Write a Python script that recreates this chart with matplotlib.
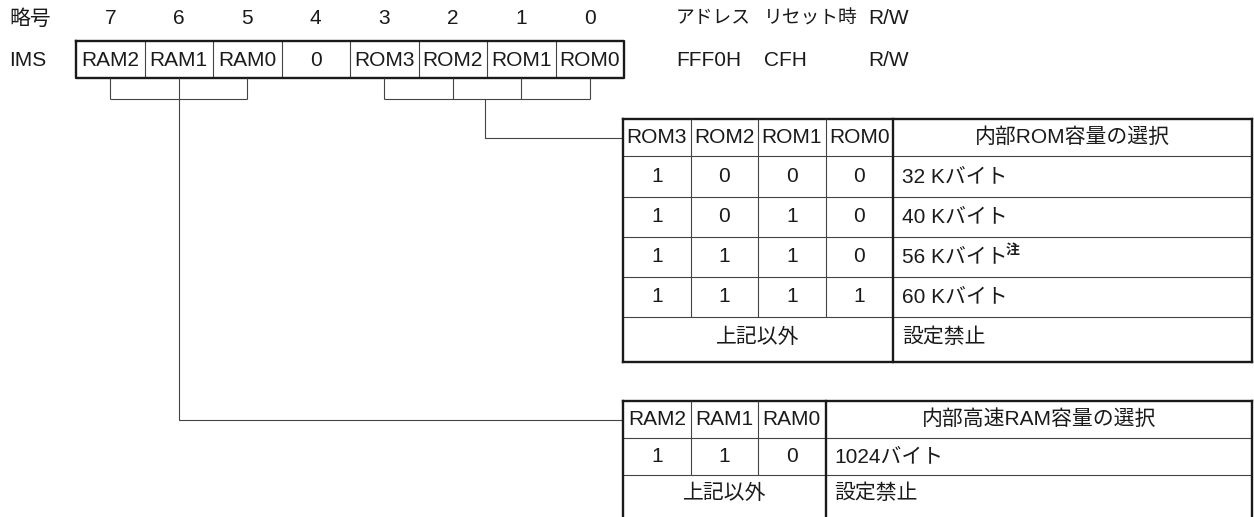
import matplotlib
matplotlib.use('Agg')
import matplotlib.pyplot as plt

plt.rcParams['font.family'] = ['Liberation Sans', 'Noto Sans CJK JP', 'DejaVu Sans']

# register
bit_numbers = ['7', '6', '5', '4', '3', '2', '1', '0']
bit_names = ['RAM2', 'RAM1', 'RAM0', '0', 'ROM3', 'ROM2', 'ROM1', 'ROM0']
reg_name = 'IMS'
info_headers = ['アドレス', 'リセット時', 'R/W']
info_values = ['FFF0H', 'CFH', 'R/W']

# ROM size table
rom_headers = ['ROM3', 'ROM2', 'ROM1', 'ROM0']
rom_title = '内部ROM容量の選択'
rom_bits = [[1, 0, 0, 0], [1, 0, 1, 0], [1, 1, 1, 0], [1, 1, 1, 1]]
rom_sizes = ['32 Kバイト', '40 Kバイト', '56 Kバイト', '60 Kバイト']
rom_note = [False, False, True, False]

# RAM size table
ram_headers = ['RAM2', 'RAM1', 'RAM0']
ram_title = '内部高速RAM容量の選択'
ram_bits = [[1, 1, 0]]
ram_sizes = ['1024バイト']
ram_note = [False]

other_label = '上記以外'
forbid_label = '設定禁止'
note_mark = '注'

FS = 15
TXT = '#1a1a1a'
THIN = dict(color='#444444', lw=0.8, solid_capstyle='butt')
THICK = dict(color='#1a1a1a', lw=1.7, solid_capstyle='projecting')

fig = plt.figure(figsize=(12.54, 5.17), dpi=100)
ax = fig.add_axes([0, 0, 1, 1])
ax.set_xlim(0, 1254)
ax.set_ylim(517, 0)
ax.axis('off')

# ---- register row
x0, cw = 76, 68.5
y_top, y_bot = 41, 78
ax.text(9, 19, '略号', fontsize=FS, color=TXT, va='center', ha='left')
ax.text(9, 60, reg_name, fontsize=FS, color=TXT, va='center', ha='left')
for i, (n, name) in enumerate(zip(bit_numbers, bit_names)):
    cx = x0 + cw * (i + 0.5)
    ax.text(cx, 19, n, fontsize=FS, color=TXT, ha='center', va='center')
    ax.text(cx, 60, name, fontsize=FS, color=TXT, ha='center', va='center')
    if i > 0:
        ax.plot([x0 + cw * i] * 2, [y_top, y_bot], **THIN)
x1 = x0 + cw * len(bit_names)
ax.plot([x0, x1, x1, x0, x0], [y_top, y_top, y_bot, y_bot, y_top], **THICK)

for xx, h, v in zip([676, 764, 868], info_headers, info_values):
    ax.text(xx, 19, h, fontsize=13.5 if h != 'R/W' else FS, color=TXT, va='center', ha='left')
    ax.text(xx, 60, v, fontsize=FS, color=TXT, va='center', ha='left')

# ---- brackets
br_y = 99
ram_idx = [bit_names.index(h) for h in ram_headers]
rom_idx = [bit_names.index(h) for h in rom_headers]


def bracket(idx, drop_x, drop_y, end_x):
    xs = [x0 + cw * (i + 0.5) for i in idx]
    for x in xs:
        ax.plot([x, x], [y_bot, br_y], **THIN)
    ax.plot([xs[0], xs[-1]], [br_y, br_y], **THIN)
    ax.plot([drop_x, drop_x, end_x], [br_y, drop_y, drop_y], **THIN)


def table(top, row_lines, bottom, headers, title, bits, sizes, notes):
    left, cwt, right = 623, 67.5, 1252
    split = left + cwt * len(headers)
    rows = [top] + row_lines + [bottom]
    ax.plot([left, right], [top, top], **THICK)
    ax.plot([left, right], [bottom, bottom], **THICK)
    for y in row_lines:
        ax.plot([left, right], [y, y], **THIN)
    ax.plot([left, left], [top, bottom], **THICK)
    ax.plot([right, right], [top, bottom], **THICK)
    ax.plot([split, split], [top, bottom], **THICK)
    for k in range(1, len(headers)):
        xk = left + cwt * k
        ax.plot([xk, xk], [top, rows[len(bits) + 1]], **THIN)
    # header
    yc = (rows[0] + rows[1]) / 2
    for k, h in enumerate(headers):
        ax.text(left + cwt * (k + 0.5), yc, h, fontsize=FS, color=TXT, ha='center', va='center')
    ax.text((split + right) / 2, yc, title, fontsize=FS, color=TXT, ha='center', va='center')
    # body
    for r, (b, s, nt) in enumerate(zip(bits, sizes, notes)):
        yc = (rows[r + 1] + rows[r + 2]) / 2
        for k, v in enumerate(b):
            ax.text(left + cwt * (k + 0.5), yc, str(v), fontsize=FS, color=TXT, ha='center', va='center')
        t = ax.text(split + 9, yc, s, fontsize=FS, color=TXT, ha='left', va='center')
        if nt:
            fig.canvas.draw()
            bb = t.get_window_extent()
            xe = ax.transData.inverted().transform((bb.x1, bb.y1))[0]
            ax.text(xe - 2, yc - 7, note_mark, fontsize=10, fontweight='bold', color=TXT,
                    ha='left', va='center', family=['Noto Sans CJK JP'])
    r = len(bits) + 1
    if bottom > 517:
        yc = rows[r] + 18
    else:
        yc = (rows[r] + rows[r + 1]) / 2 - 2
    ax.text((left + split) / 2, yc, other_label, fontsize=FS, color=TXT, ha='center', va='center')
    ax.text(split + 9, yc, forbid_label, fontsize=FS, color=TXT, ha='left', va='center')


bracket(rom_idx, 485, 138, 623)
table(119, [156, 197, 237, 277, 317], 362, rom_headers, rom_title, rom_bits, rom_sizes, rom_note)

bracket(ram_idx, x0 + cw * 1.5, 420, 623)
table(401, [438, 475], 540, ram_headers, ram_title, ram_bits, ram_sizes, ram_note)

fig.savefig('out.png', dpi=100)
